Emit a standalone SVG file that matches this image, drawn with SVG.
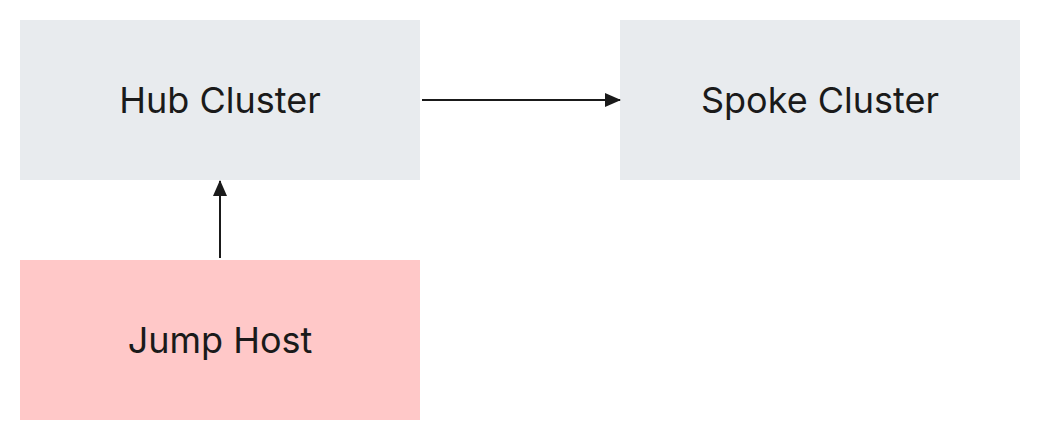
<svg xmlns="http://www.w3.org/2000/svg" width="1040" height="440" viewBox="0 0 1040 440">
<style>
.n{fill:#e8ebee}
.t{font-family:Inter,"Noto Sans",sans-serif;font-size:36px;fill:#1a1a1a;text-anchor:middle;dominant-baseline:central}
.c{stroke:#1a1a1a;stroke-width:2;fill:none}
</style>
<defs><marker id="a" markerWidth="16" markerHeight="14" refX="15" refY="7" orient="auto" markerUnits="userSpaceOnUse"><path d="M0,0L16,7L0,14z" fill="#1a1a1a"/></marker></defs>
<rect width="1040" height="440" fill="#fff"/>
<g id="hub"><rect class="n" x="20" y="20" width="400" height="160"/><text class="t" x="220" y="100">Hub Cluster</text></g>
<g id="spoke"><rect class="n" x="620" y="20" width="400" height="160"/><text class="t" x="820" y="100">Spoke Cluster</text></g>
<g id="jump"><rect x="20" y="260" width="400" height="160" fill="#ffc8c8"/><text class="t" x="220" y="340">Jump Host</text></g>
<g id="connectors">
<path class="c" d="M422,100H620" marker-end="url(#a)"/>
<path class="c" d="M220,258V181" marker-end="url(#a)"/>
</g>
</svg>
